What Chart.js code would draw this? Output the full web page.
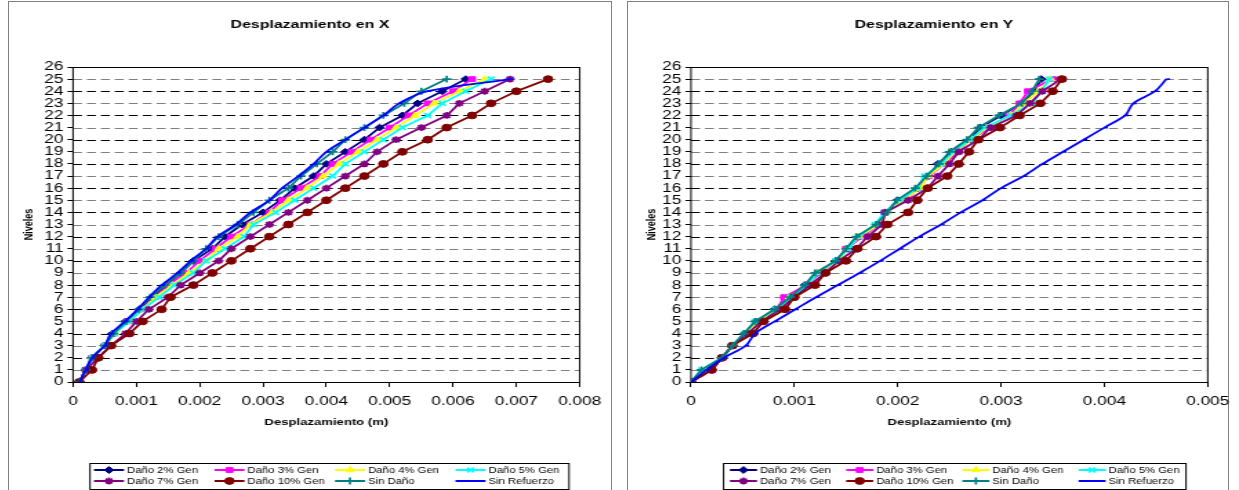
<!DOCTYPE html>
<html>
<head>
<meta charset="utf-8">
<script src="https://cdn.jsdelivr.net/npm/chart.js"></script>
<style>
  html, body { margin: 0; padding: 0; background: #fff; }
  body { width: 1239px; height: 490px; position: relative; overflow: hidden; }
  .box { position: absolute; top: 1px; height: 500px; border: 1px solid #808080; box-sizing: border-box; }
  .wrap { position: absolute; top: 3px; height: 487px; transform-origin: 0 0; }
</style>
</head>
<body>
<div class="box" style="left:8px; width:604px;"></div>
<div class="box" style="left:627px; width:602px;"></div>
<div class="wrap" id="wrapX" style="left:9px;"><canvas id="chartX"></canvas></div>
<div class="wrap" id="wrapY" style="left:629px;"><canvas id="chartY"></canvas></div>
<script>
// the excel picture is stretched sideways, so the canvases are too
const S = 1.38;
const FONT = "'Liberation Sans', Arial, sans-serif";

const niveles = [0, 1, 2, 3, 4, 5, 6, 7, 8, 9, 10, 11, 12, 13, 14, 15, 16, 17, 18, 19, 20, 21, 22, 23, 24, 25];
const seriesNames = ["Daño 2% Gen", "Daño 3% Gen", "Daño 4% Gen", "Daño 5% Gen", "Daño 7% Gen", "Daño 10% Gen", "Sin Daño", "Sin Refuerzo"];
const seriesColors = ["#000080", "#ff00ff", "#ffff00", "#00ffff", "#800080", "#800000", "#008080", "#0000ff"];
const seriesMarkers = ["rectRot", "rect", "triangle", "crossRot", "star", "circle", "cross", "dash"];

const xTicksX = ["0", "0.001", "0.002", "0.003", "0.004", "0.005", "0.006", "0.007", "0.008"];
const xTicksY = ["0", "0.001", "0.002", "0.003", "0.004", "0.005"];

// Desplazamiento en X (m)
const dxDano2 = [0.0001, 0.0002, 0.0003, 0.0005, 0.00062, 0.00083, 0.00105, 0.00125, 0.00147, 0.0017, 0.0019, 0.0022, 0.0024, 0.00267, 0.0030, 0.00327, 0.0035, 0.0038, 0.0040, 0.0043, 0.0046, 0.00484, 0.0052, 0.00544, 0.00583, 0.0062];
const dxDano3 = [0.0001, 0.0002, 0.0003, 0.0005, 0.00065, 0.00086, 0.00108, 0.0013, 0.0015, 0.00178, 0.0020, 0.00225, 0.0025, 0.0028, 0.0031, 0.0033, 0.0036, 0.0039, 0.0041, 0.0044, 0.0047, 0.0050, 0.0053, 0.0056, 0.0060, 0.0063];
const dxDano4 = [0.0001, 0.0002, 0.0003, 0.0005, 0.00066, 0.00088, 0.0011, 0.0013, 0.00157, 0.00183, 0.0021, 0.0023, 0.0026, 0.0028, 0.00314, 0.0034, 0.0037, 0.00395, 0.0042, 0.0045, 0.0048, 0.0051, 0.0054, 0.0057, 0.0061, 0.0065];
const dxDano5 = [0.0001, 0.0002, 0.0003, 0.0005, 0.00065, 0.00089, 0.0011, 0.00136, 0.0016, 0.0019, 0.0021, 0.0024, 0.0027, 0.00285, 0.0032, 0.0035, 0.0038, 0.0041, 0.0043, 0.0046, 0.0049, 0.0052, 0.0056, 0.00583, 0.0062, 0.0066];
const dxDano7 = [0.0001, 0.0002, 0.0004, 0.0006, 0.00083, 0.0010, 0.0012, 0.0015, 0.0017, 0.0020, 0.0023, 0.0025, 0.0028, 0.0031, 0.0034, 0.0037, 0.0040, 0.0043, 0.0046, 0.0048, 0.0051, 0.0055, 0.0059, 0.0061, 0.0065, 0.0069];
const dxDano10 = [0.0001, 0.0003, 0.0004, 0.0006, 0.00089, 0.0011, 0.0014, 0.00154, 0.0019, 0.0022, 0.0025, 0.0028, 0.0031, 0.0034, 0.0037, 0.0040, 0.0043, 0.0046, 0.0049, 0.0052, 0.0056, 0.0059, 0.0063, 0.0066, 0.0070, 0.0075];
const dxSinDano = [0.0001, 0.0002, 0.0003, 0.0005, 0.00064, 0.00084, 0.00104, 0.00122, 0.00145, 0.0017, 0.0019, 0.0021, 0.0023, 0.0026, 0.00285, 0.0031, 0.0034, 0.0036, 0.00385, 0.0041, 0.0043, 0.0046, 0.0049, 0.00523, 0.0055, 0.0059];
const dxSinRef = [0.0001, 0.0002, 0.0003, 0.0005, 0.0006, 0.00082, 0.00102, 0.0012, 0.0014, 0.00165, 0.00186, 0.0021, 0.00228, 0.00257, 0.0028, 0.0031, 0.0033, 0.00356, 0.0038, 0.0040, 0.0043, 0.0046, 0.0049, 0.00515, 0.0056, 0.0069];

// Desplazamiento en Y (m)
const dyDano2 = [0, 0.0002, 0.0003, 0.0004, 0.00052, 0.00063, 0.00081, 0.00095, 0.0011, 0.00122, 0.0014, 0.00152, 0.00163, 0.0018, 0.00188, 0.0020, 0.0022, 0.0023, 0.00239, 0.00252, 0.0027, 0.0028, 0.0030, 0.0032, 0.00332, 0.00339];
const dyDano3 = [0, 0.0002, 0.0003, 0.0004, 0.00053, 0.00064, 0.00083, 0.0009, 0.00112, 0.00125, 0.00142, 0.0015, 0.00166, 0.00182, 0.00187, 0.00208, 0.0022, 0.0023, 0.00245, 0.00259, 0.0027, 0.0029, 0.00308, 0.00318, 0.00326, 0.0035];
const dyDano4 = [0, 0.0002, 0.0003, 0.0004, 0.00053, 0.00065, 0.00084, 0.00095, 0.00113, 0.00122, 0.00143, 0.00151, 0.00163, 0.00182, 0.00189, 0.00205, 0.00222, 0.00229, 0.00245, 0.00255, 0.00272, 0.00286, 0.0031, 0.00322, 0.00336, 0.00348];
const dyDano5 = [0, 0.0001, 0.0003, 0.0004, 0.00052, 0.00062, 0.00082, 0.00097, 0.00112, 0.00123, 0.0014, 0.00152, 0.00162, 0.00178, 0.00187, 0.00202, 0.00219, 0.00226, 0.00242, 0.00254, 0.0027, 0.00284, 0.00309, 0.0033, 0.00339, 0.00347];
const dyDano7 = [0, 0.0002, 0.0003, 0.0004, 0.00055, 0.00068, 0.00086, 0.0010, 0.00115, 0.0013, 0.00143, 0.0016, 0.00171, 0.00185, 0.00188, 0.0021, 0.00229, 0.00239, 0.0025, 0.00259, 0.00278, 0.0029, 0.00315, 0.00328, 0.0034, 0.00358];
const dyDano10 = [0, 0.0002, 0.0003, 0.0004, 0.0006, 0.0007, 0.00091, 0.0010, 0.0012, 0.0013, 0.0015, 0.00161, 0.00179, 0.0019, 0.0021, 0.00219, 0.00229, 0.00248, 0.00259, 0.00269, 0.00278, 0.00299, 0.00318, 0.00338, 0.0035, 0.00359];
const dySinDano = [0, 0.0001, 0.0003, 0.0004, 0.00051, 0.00062, 0.00081, 0.00096, 0.0011, 0.0012, 0.0014, 0.0015, 0.0016, 0.00179, 0.0019, 0.00199, 0.00217, 0.00228, 0.0024, 0.0025, 0.00267, 0.00278, 0.00298, 0.0032, 0.0033, 0.00337];
const dySinRef = [0, 0.00015, 0.00032, 0.00053, 0.00062, 0.00081, 0.00101, 0.00121, 0.00142, 0.00163, 0.00183, 0.00202, 0.00221, 0.00242, 0.00261, 0.00282, 0.0030, 0.00322, 0.0034, 0.0036, 0.0038, 0.0040, 0.0042, 0.00428, 0.00449, 0.0046];

// dashed gridlines (odd levels grey, even black) and the frame round the plot
const plotFrame = {
  id: "plotFrame",
  beforeDatasetsDraw(chart) {
    const a = chart.chartArea;
    const ctx = chart.ctx;
    const yScale = chart.scales.y;
    ctx.save();
    ctx.lineWidth = 1;
    ctx.setLineDash([6.5, 3.6]);
    yScale.ticks.forEach((t) => {
      if (t.value <= 0 || t.value >= 26) return;
      const py = Math.round(yScale.getPixelForValue(t.value)) + 0.5;
      ctx.strokeStyle = t.value % 2 === 1 ? "#808080" : "#000000";
      ctx.beginPath();
      ctx.moveTo(a.left, py);
      ctx.lineTo(a.right, py);
      ctx.stroke();
    });
    ctx.setLineDash([]);
    ctx.strokeStyle = "#000";
    ctx.strokeRect(a.left, Math.round(a.top) + 0.5, a.right - a.left, Math.round(a.bottom - a.top));
    ctx.restore();
  }
};

// excel style legend box, 4 columns x 2 rows
const excelLegend = {
  id: "excelLegend",
  afterDraw(chart, args, o) {
    const ctx = chart.ctx;
    ctx.save();
    ctx.strokeStyle = "#000";
    ctx.lineWidth = 1;
    ctx.strokeRect(o.boxX / S, o.boxY + 0.5, o.boxW / S, o.boxH);
    ctx.font = "8.2px " + FONT;
    ctx.textBaseline = "middle";
    chart.data.datasets.forEach((ds, i) => {
      const x0 = (o.colX + (i % 4) * o.colStep) / S;
      const y0 = i < 4 ? o.row1 : o.row2;
      const len = o.lineLen / S;
      ctx.strokeStyle = ds.borderColor;
      ctx.fillStyle = ds.borderColor;
      ctx.lineWidth = 2;
      ctx.beginPath();
      ctx.moveTo(x0, y0);
      ctx.lineTo(x0 + len, y0);
      ctx.stroke();
      if (Chart.helpers && Chart.helpers.drawPoint) {
        ctx.lineWidth = ds.pointBorderWidth;
        Chart.helpers.drawPoint(ctx, {pointStyle: ds.pointStyle, radius: ds.pointRadius, borderWidth: ds.pointBorderWidth, rotation: 0}, x0 + len / 2, y0);
      }
      ctx.fillStyle = "#000";
      ctx.fillText(ds.label, x0 + o.textOff / S, y0 + 0.5);
    });
    ctx.restore();
  }
};

function makeDatasets(values) {
  return values.map((vals, i) => ({
    label: seriesNames[i],
    data: vals.map((v, k) => ({x: v, y: niveles[k]})),
    showLine: true,
    borderColor: seriesColors[i],
    backgroundColor: seriesColors[i],
    borderWidth: 1.8,
    pointStyle: seriesMarkers[i],
    pointRadius: seriesMarkers[i] === "dash" ? 2.5 : 3.4,
    pointBorderWidth: ["crossRot", "star", "cross", "dash"].includes(seriesMarkers[i]) ? 1.7 : 1,
    pointBackgroundColor: seriesColors[i],
    pointBorderColor: seriesColors[i],
    tension: seriesNames[i] === "Sin Refuerzo" ? 0.35 : 0,
    order: values.length - i
  }));
}

function makeChart(id, wrapId, cfg) {
  const wrap = document.getElementById(wrapId);
  wrap.style.width = (cfg.width / S) + "px";
  wrap.style.transform = "scaleX(" + S + ")";
  return new Chart(document.getElementById(id), {
    type: "scatter",
    data: { datasets: makeDatasets(cfg.series) },
    options: {
      responsive: true,
      maintainAspectRatio: false,
      animation: false,
      events: [],
      layout: { padding: { left: 0, right: 0, top: 0, bottom: 61.6 } },
      plugins: {
        legend: { display: false },
        tooltip: { enabled: false },
        title: {
          display: true,
          text: cfg.title,
          color: "#000",
          font: { family: FONT, size: 11.5, weight: "bold" },
          padding: { top: 15.1, bottom: 35.1 }
        },
        excelLegend: cfg.legend
      },
      scales: {
        x: {
          type: "linear",
          min: 0,
          max: cfg.xMax,
          afterFit: (scale) => { scale.height = 46.4; },
          ticks: {
            stepSize: 0.001,
            color: "#000",
            padding: 7,
            maxRotation: 0,
            font: { family: FONT, size: 12.5 },
            callback: (v, i) => cfg.xTicks[i] !== undefined ? cfg.xTicks[i] : v.toFixed(3)
          },
          grid: { drawOnChartArea: false, drawTicks: true, tickLength: 5, tickColor: "#000", tickWidth: 1 },
          border: { display: false },
          title: {
            display: true,
            text: "Desplazamiento (m)",
            color: "#000",
            font: { family: FONT, size: 9.5, weight: "bold" },
            padding: { top: 0, bottom: 0 }
          }
        },
        y: {
          type: "linear",
          min: 0,
          max: 26,
          afterFit: (scale) => { scale.width = cfg.yWidth / S; },
          ticks: {
            stepSize: 1,
            autoSkip: false,
            color: "#000",
            padding: 3,
            font: { family: FONT, size: 12.5 }
          },
          grid: { drawOnChartArea: false, drawTicks: true, tickLength: 4, tickColor: "#000" },
          border: { display: false },
          title: {
            display: true,
            text: "Niveles",
            color: "#000",
            font: { family: FONT, size: 9, weight: "bold" },
            padding: { top: cfg.yTitlePad, bottom: 0 }
          }
        },
        // empty right axis, only keeps room right of the plot
        yRight: {
          type: "linear",
          position: "right",
          min: 0,
          max: 26,
          afterFit: (scale) => { scale.width = cfg.padRight / S; },
          ticks: { display: false },
          grid: { display: false },
          border: { display: false }
        }
      }
    },
    plugins: [plotFrame, excelLegend]
  });
}

makeChart("chartX", "wrapX", {
  width: 602,
  title: "Desplazamiento en X",
  series: [dxDano2, dxDano3, dxDano4, dxDano5, dxDano7, dxDano10, dxSinDano, dxSinRef],
  xMax: 0.008,
  xTicks: xTicksX,
  yWidth: 64,
  padRight: 27,
  yTitlePad: 9.5,
  legend: { boxX: 81, boxY: 460, boxW: 479, boxH: 26, colX: 85, colStep: 120.5, lineLen: 30, textOff: 33, row1: 467, row2: 478 }
});

makeChart("chartY", "wrapY", {
  width: 610,
  title: "Desplazamiento en Y",
  series: [dyDano2, dyDano3, dyDano4, dyDano5, dyDano7, dyDano10, dySinDano, dySinRef],
  xMax: 0.005,
  xTicks: xTicksY,
  yWidth: 62,
  padRight: 28,
  yTitlePad: 11,
  legend: { boxX: 94.6, boxY: 460, boxW: 462.4, boxH: 26, colX: 101, colStep: 116.2, lineLen: 27, textOff: 30, row1: 467, row2: 478 }
});
</script>
</body>
</html>
